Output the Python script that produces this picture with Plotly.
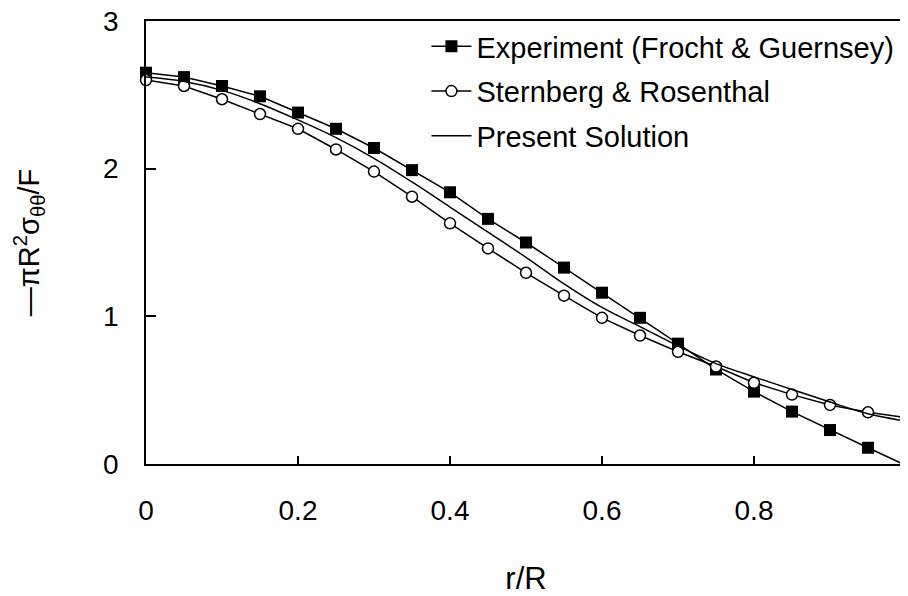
import plotly.graph_objects as go

r = [0.0, 0.05, 0.1, 0.15, 0.2, 0.25, 0.3, 0.35, 0.4, 0.45, 0.5,
     0.55, 0.6, 0.65, 0.7, 0.75, 0.8, 0.85, 0.9, 0.95, 1.0]

experiment = [2.65, 2.62, 2.56, 2.49, 2.38, 2.27, 2.14, 1.99, 1.84, 1.66, 1.50,
              1.33, 1.16, 0.99, 0.815, 0.64, 0.49, 0.355, 0.23, 0.11, -0.01]

sternberg = [2.60, 2.56, 2.47, 2.37, 2.27, 2.13, 1.98, 1.81, 1.63, 1.46, 1.295,
             1.14, 0.99, 0.87, 0.76, 0.66, 0.55, 0.47, 0.40, 0.35, 0.315]

present = [2.62, 2.59, 2.53, 2.44, 2.33, 2.21, 2.07, 1.91, 1.74, 1.57, 1.40,
           1.22, 1.06, 0.93, 0.80, 0.68, 0.59, 0.505, 0.42, 0.34, 0.29]

x_ticks = [0, 0.2, 0.4, 0.6, 0.8, 1]
x_tick_labels = ["0", "0.2", "0.4", "0.6", "0.8", "1"]
y_ticks = [0, 1, 2, 3]
y_tick_labels = ["0", "1", "2", "3"]

FONT = "Liberation Sans, Arial, sans-serif"

fig = go.Figure()
fig.add_trace(go.Scatter(
    x=r, y=experiment, mode="lines+markers",
    name="Experiment (Frocht & Guernsey)",
    line=dict(color="black", width=1.5),
    marker=dict(symbol="square", size=12, color="black", line=dict(color="black", width=0)),
    cliponaxis=False, legendgroup="a",
))
fig.add_trace(go.Scatter(
    x=r, y=sternberg, mode="lines+markers",
    name="Sternberg & Rosenthal",
    line=dict(color="black", width=1.5),
    marker=dict(symbol="circle", size=11, color="white", line=dict(color="black", width=1.5)),
    cliponaxis=False, legendgroup="b",
))
fig.add_trace(go.Scatter(
    x=r, y=present, mode="lines",
    name="Present Solution",
    line=dict(color="black", width=1.5, shape="spline"),
    cliponaxis=False, legendgroup="c",
))

fig.update_layout(
    width=900, height=588,
    margin=dict(l=138, r=1.5, t=13, b=132),
    paper_bgcolor="white", plot_bgcolor="white",
    font=dict(family=FONT, size=28, color="black"),
    showlegend=True,
    legend=dict(
        x=0.369, y=1.0, xanchor="left", yanchor="top",
        bgcolor="rgba(0,0,0,0)", borderwidth=0,
        font=dict(size=29, family=FONT),
        tracegroupgap=4, itemwidth=40,
    ),
    xaxis=dict(
        range=[0, 1], tickvals=x_ticks, ticktext=x_tick_labels,
        showline=True, linecolor="black", linewidth=1.5, mirror=True,
        ticks="inside", ticklen=8, tickwidth=1.5, tickcolor="black",
        showgrid=False, zeroline=False, automargin=False,
        ticklabelstandoff=21, ticklabeloverflow="allow",
        title=dict(text="r/R", font=dict(size=31, family=FONT), standoff=46),
    ),
    yaxis=dict(
        range=[0, 3], tickvals=y_ticks, ticktext=y_tick_labels,
        showline=True, linecolor="black", linewidth=1.5, mirror=True,
        ticks="inside", ticklen=10, tickwidth=1.5, tickcolor="black",
        showgrid=False, zeroline=False, automargin=False,
        ticklabelstandoff=20, ticklabeloverflow="allow",
        title=dict(text="\u2014\u03c0R<sup>2</sup>\u03c3<sub>\u03b8\u03b8</sub>/F",
                   font=dict(size=29, family=FONT), standoff=55),
    ),
)

fig.write_html("out.html")
